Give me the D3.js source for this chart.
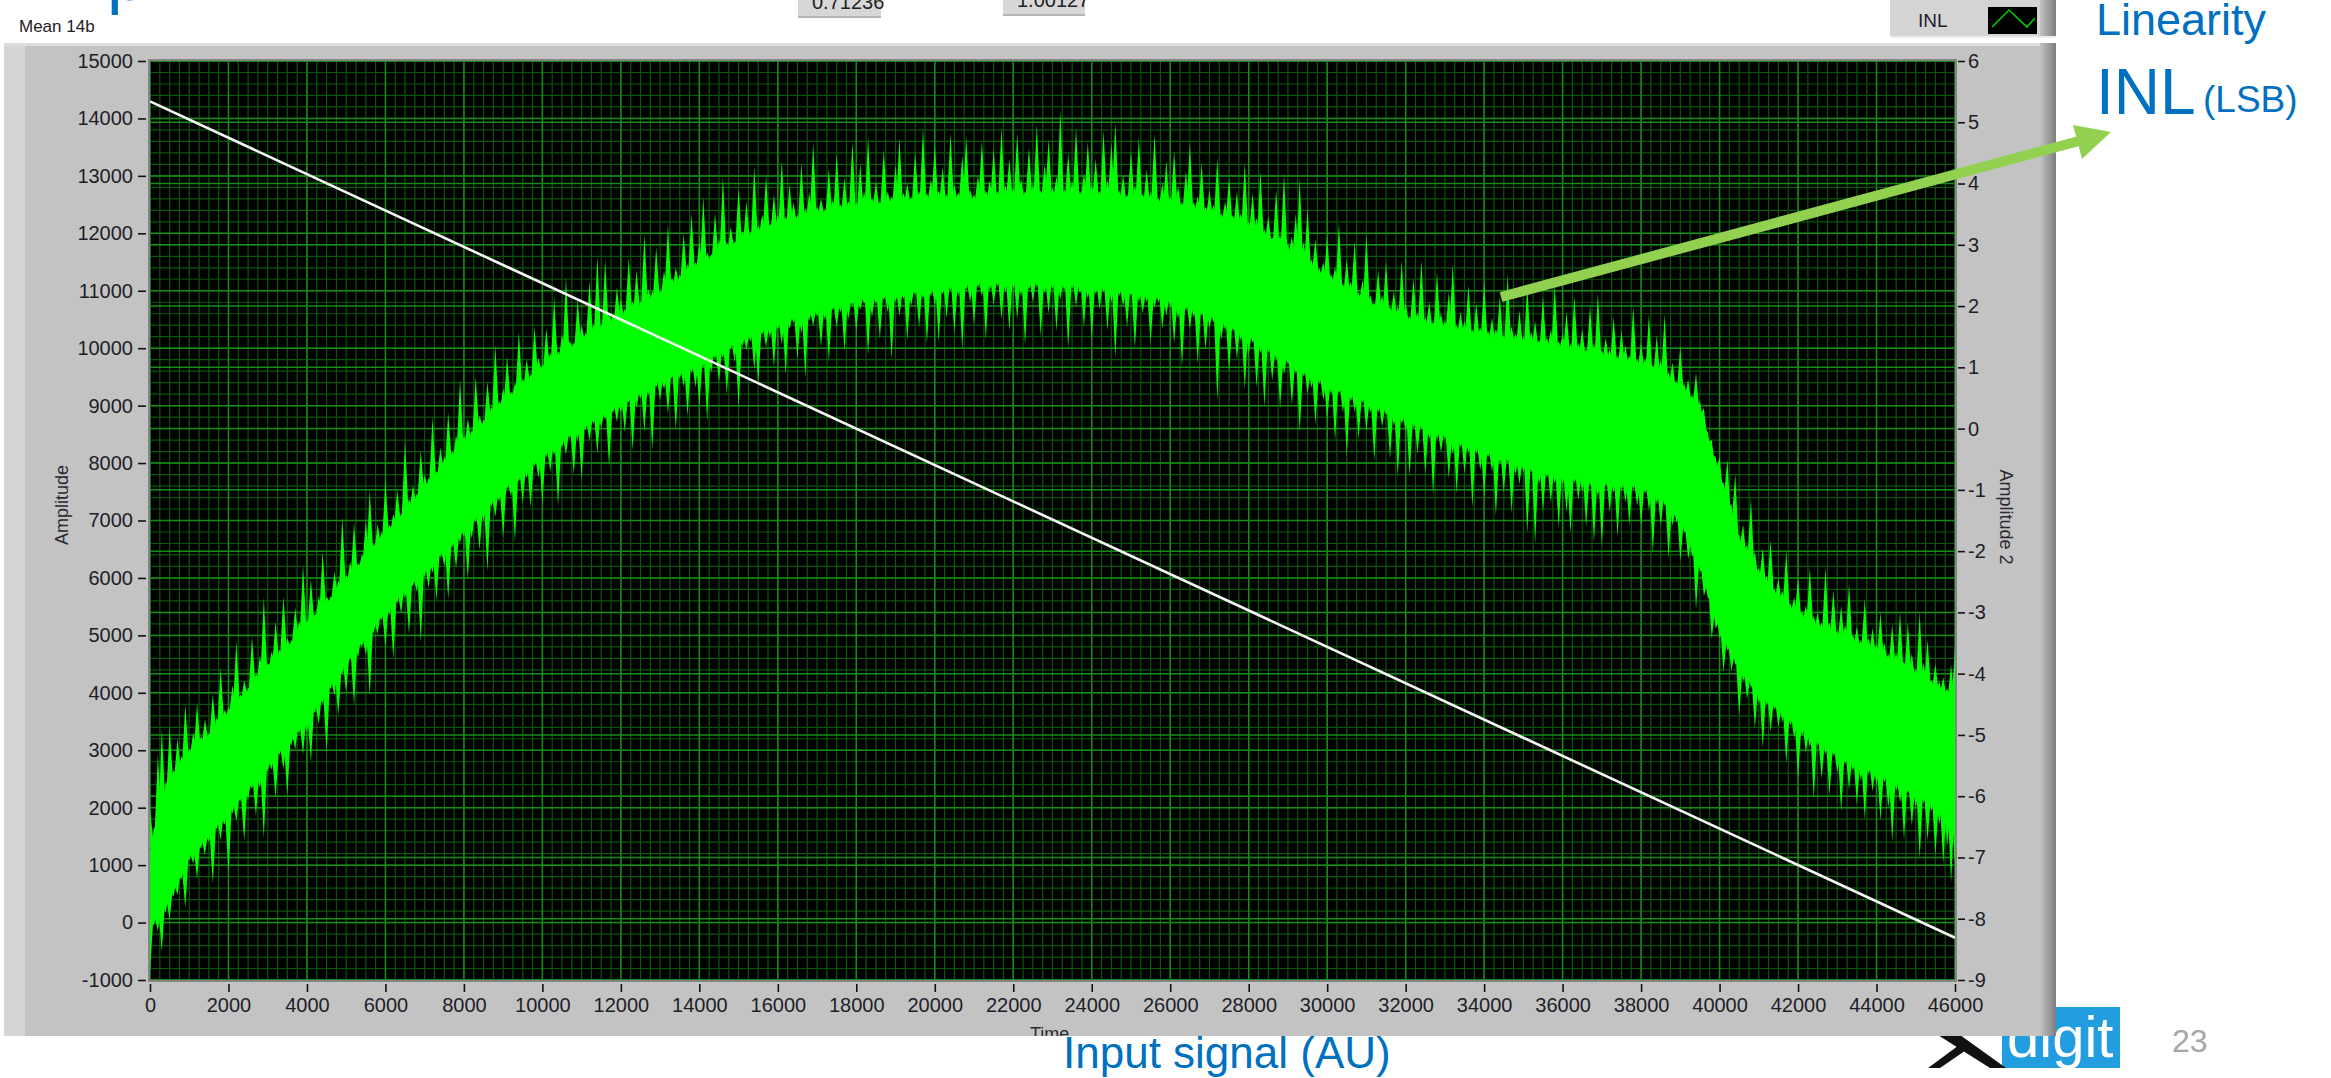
<!DOCTYPE html>
<html>
<head>
<meta charset="utf-8">
<script src="https://cdn.jsdelivr.net/npm/d3@7"></script>
<style>
  html, body { margin: 0; padding: 0; background: #ffffff; }
  svg { display: block; }
</style>
</head>
<body>
<svg id="chart" width="2331" height="1078"></svg>
<script>
// ---------------------------------------------------------------------------
// Acquired waveform (Amplitude, 14-bit mean).
// The dense trace is stored as a solid core band (every 500 time counts)
// plus the noise spikes that stick out of it (every 100 time counts),
// given in amplitude units above the core top / below the core bottom.
// ---------------------------------------------------------------------------
const coreStep = 500;
const coreTop = [
  1250, 2450, 2950, 3250, 3650, 4050, 4450, 4800, 5150, 5550,
  5950, 6350, 6750, 7150, 7550, 7950, 8350, 8700, 9050, 9350,
  9650, 9900, 10150, 10350, 10550, 10750, 10950, 11200, 11450, 11650,
  11850, 12000, 12150, 12250, 12350, 12400, 12450, 12500, 12550, 12570,
  12600, 12600, 12600, 12630, 12650, 12650, 12650, 12650, 12650, 12630,
  12600, 12550, 12500, 12430, 12350, 12230, 12100, 11900, 11700, 11450,
  11200, 11000, 10800, 10650, 10500, 10420, 10350, 10270, 10200, 10150,
  10100, 10050, 10000, 9930, 9850, 9770, 9700, 9550, 9300, 8950,
  7750, 6650, 6050, 5650, 5350, 5150, 5000, 4850, 4700, 4500,
  4300, 4100, 3900
];
const coreBottom = [
  -50, 450, 1150, 1550, 1950, 2350, 2750, 3150, 3550, 4050,
  4550, 5000, 5450, 5800, 6150, 6500, 6850, 7200, 7550, 7850,
  8150, 8400, 8650, 8850, 9050, 9250, 9450, 9600, 9750, 9950,
  10150, 10300, 10450, 10550, 10650, 10750, 10850, 10900, 10950, 11000,
  11050, 11100, 11150, 11150, 11150, 11150, 11150, 11130, 11100, 11050,
  11000, 10930, 10850, 10730, 10600, 10430, 10250, 10030, 9800, 9600,
  9400, 9250, 9100, 8950, 8800, 8650, 8500, 8370, 8250, 8130,
  8000, 7900, 7800, 7750, 7700, 7670, 7650, 7450, 7050, 6250,
  5150, 4450, 4050, 3750, 3450, 3200, 2950, 2800, 2650, 2470,
  2300, 2100, 1900
];

const spikeStep = 100;
const spikeAbove = [
  750, 170, 1200, 1400, 250, 950, 100, 550, 150, 950, 70, 300, 750, 120, 350, 50, 650, 170, 950, 135,
  100, 400, 1100, 85, 250, 35, 850, 135, 350, 1300, 70, 200, 650, 100, 950, 150, 50, 550, 250, 1150,
  120, 750, 70, 300, 1000, 135, 50, 400, 170, 1200, 100, 250, 850, 70, 150, 650, 1100, 85, 350, 135,
  950, 100, 200, 550, 50, 1250, 150, 300, 85, 750, 250, 120, 1100, 70, 400, 170, 850, 100, 300, 1200,
  135, 350, 85, 950, 200, 50, 650, 150, 1150, 100, 250, 750, 70, 170, 1000, 120, 400, 85, 850, 250,
  70, 650, 170, 1100, 100, 350, 1300, 135, 50, 750, 250, 85, 950, 150, 1300, 70, 1150, 200, 120, 550,
  300, 100, 950, 150, 650, 70, 1200, 200, 120, 850, 50, 350, 1100, 135, 250, 85, 750, 170, 1000, 100,
  400, 1150, 135, 70, 750, 250, 1300, 120, 350, 50, 950, 170, 650, 100, 1200, 150, 300, 950, 85, 550,
  170, 1100, 100, 650, 300, 70, 950, 150, 400, 1250, 120, 250, 50, 750, 200, 1000, 100, 550, 135, 1150,
  85, 750, 250, 1200, 135, 400, 50, 950, 200, 100, 650, 1100, 150, 300, 70, 850, 170, 1250, 120, 350,
  950, 150, 550, 85, 1150, 250, 120, 750, 1100, 170, 70, 400, 1000, 135, 300, 850, 100, 1200, 200, 650,
  135, 1100, 300, 85, 850, 200, 1250, 100, 550, 1000, 150, 350, 1500, 120, 750, 250, 1200, 85, 400, 950,
  200, 650, 100, 1150, 300, 950, 1300, 135, 400, 70, 850, 250, 1100, 120, 550, 170, 1200, 85, 350, 750,
  150, 950, 350, 85, 650, 1150, 135, 250, 850, 100, 400, 170, 1000, 70, 300, 750, 120, 550, 200, 1100,
  100, 650, 250, 1100, 135, 400, 70, 950, 200, 1300, 120, 300, 750, 1400, 350, 1000, 150, 550, 100, 250,
  750, 135, 300, 1100, 85, 550, 200, 950, 100, 350, 1200, 150, 50, 650, 250, 850, 120, 400, 170, 1000,
  300, 85, 750, 170, 1100, 120, 400, 70, 950, 250, 135, 650, 1150, 100, 350, 200, 850, 85, 550, 150,
  950, 120, 350, 170, 750, 70, 1150, 250, 135, 550, 100, 1000, 200, 400, 85, 850, 150, 300, 1100, 120,
  250, 650, 100, 950, 150, 400, 70, 850, 200, 1100, 120, 350, 170, 750, 85, 550, 300, 135, 1000, 100,
  400, 150, 950, 100, 650, 250, 1100, 135, 350, 85, 750, 170, 300, 100, 550, 135, 250, 70, 170, 120,
  350, 135, 750, 200, 950, 100, 400, 170, 1100, 300, 120, 550, 150, 850, 85, 350, 200, 950, 100, 250,
  650, 120, 250, 950, 150, 250, 100, 1100, 170, 750, 85, 550, 250, 1000, 135, 300, 100, 850, 200, 400,
  150, 750, 250, 100, 650, 200, 950, 135, 850, 350, 120, 1150, 300, 750, 85, 400, 135, 250, 100, 550,
  900
];
const spikeBelow = [
  800, 100, 300, 750, 170, 400, 135, 250, 120, 750, 70, 200, 550, 100, 300, 150, 950, 85, 350, 170,
  1100, 135, 350, 85, 850, 200, 100, 650, 250, 1200, 120, 170, 750, 70, 400, 950, 150, 300, 100, 550,
  250, 850, 100, 400, 150, 1100, 85, 300, 750, 135, 550, 70, 950, 200, 120, 350, 1150, 150, 250, 100,
  650, 170, 1000, 100, 350, 150, 850, 85, 250, 1200, 135, 400, 200, 750, 70, 300, 950, 120, 550, 170,
  135, 950, 300, 85, 650, 200, 1150, 100, 350, 150, 850, 70, 250, 1100, 120, 550, 170, 750, 85, 350,
  850, 100, 400, 170, 1100, 135, 300, 70, 750, 200, 950, 120, 350, 85, 650, 250, 135, 1000, 100, 300,
  170, 550, 85, 950, 250, 120, 750, 150, 1150, 100, 350, 200, 650, 70, 1000, 135, 300, 850, 120, 400,
  750, 135, 1100, 300, 100, 550, 170, 850, 85, 350, 1200, 150, 250, 120, 650, 950, 100, 350, 200, 750,
  120, 400, 950, 170, 85, 750, 300, 1100, 135, 250, 100, 650, 200, 950, 70, 400, 150, 850, 300, 100,
  550, 200, 100, 1000, 350, 135, 750, 85, 300, 1150, 150, 400, 120, 850, 250, 70, 650, 170, 950, 135,
  300, 950, 135, 550, 85, 850, 200, 1150, 120, 350, 750, 100, 250, 1000, 150, 400, 70, 650, 170, 850,
  100, 650, 250, 1100, 150, 350, 85, 950, 200, 550, 120, 850, 300, 135, 1150, 100, 400, 170, 750, 250,
  950, 150, 400, 100, 750, 250, 1200, 120, 300, 650, 85, 1000, 170, 350, 135, 850, 200, 100, 550, 300,
  135, 750, 300, 1100, 100, 400, 170, 950, 85, 650, 250, 120, 1450, 350, 150, 850, 100, 550, 200, 1000,
  350, 120, 850, 200, 1100, 100, 550, 150, 950, 300, 85, 750, 170, 1150, 135, 400, 250, 850, 100, 350,
  650, 170, 950, 100, 400, 1150, 150, 300, 750, 85, 550, 200, 1000, 135, 350, 120, 850, 250, 1100, 150,
  250, 1000, 135, 550, 100, 850, 200, 1150, 150, 350, 85, 750, 300, 950, 120, 550, 170, 1100, 135, 400,
  850, 135, 350, 1100, 170, 650, 100, 950, 250, 400, 150, 1200, 120, 1350, 300, 750, 135, 550, 200, 950,
  170, 650, 1000, 120, 400, 250, 850, 135, 1100, 300, 1150, 100, 550, 200, 950, 150, 350, 750, 120, 400,
  750, 150, 400, 1100, 200, 550, 120, 950, 300, 170, 750, 100, 400, 200, 950, 135, 350, 170, 650, 250,
  200, 650, 135, 350, 100, 850, 170, 400, 120, 750, 250, 950, 150, 550, 100, 350, 200, 850, 135, 300,
  950, 150, 400, 250, 1100, 120, 650, 170, 850, 100, 350, 1000, 135, 550, 200, 750, 300, 950, 120, 400,
  250, 850, 135, 550, 1100, 170, 350, 950, 120, 650, 300, 1150, 150, 750, 200, 950, 350, 1000, 650, 1250,
  900
];

// INL trace, plotted against the right-hand axis (Amplitude 2, LSB)
const inlTime  = [0, 46000];
const inlValue = [5.34, -8.31];

// Axis ticks
const timeTicks = [0, 2000, 4000, 6000, 8000, 10000, 12000, 14000, 16000, 18000,
  20000, 22000, 24000, 26000, 28000, 30000, 32000, 34000, 36000, 38000, 40000,
  42000, 44000, 46000];
const amplitudeTicks = [-1000, 0, 1000, 2000, 3000, 4000, 5000, 6000, 7000, 8000,
  9000, 10000, 11000, 12000, 13000, 14000, 15000];
const amplitude2Ticks = [-9, -8, -7, -6, -5, -4, -3, -2, -1, 0, 1, 2, 3, 4, 5, 6];

// ---------------------------------------------------------------------------
const plot = { left: 150, right: 1955, top: 61, bottom: 980 };
const uiFont = "'Liberation Sans Narrow','Arial Narrow','Liberation Sans',Arial,sans-serif";
const slideFont = "'Liberation Sans',Arial,sans-serif";
const slideBlue = "#0070c0";
const traceGreen = "#00ff00";

const svg = d3.select("#chart");
const defs = svg.append("defs");

defs.append("clipPath").attr("id", "plotClip")
  .append("rect")
  .attr("x", plot.left).attr("y", plot.top)
  .attr("width", plot.right - plot.left).attr("height", plot.bottom - plot.top);

defs.append("clipPath").attr("id", "panelClip")
  .append("rect").attr("x", 4).attr("y", 43).attr("width", 2052).attr("height", 993);

const edgeGrad = defs.append("linearGradient").attr("id", "edgeShade")
  .attr("x1", 0).attr("x2", 1).attr("y1", 0).attr("y2", 0);
edgeGrad.append("stop").attr("offset", "0%").attr("stop-color", "#c3c3c3");
edgeGrad.append("stop").attr("offset", "100%").attr("stop-color", "#7d7d7d");

const x  = d3.scaleLinear().domain([0, 46000]).range([plot.left, plot.right]);
const y  = d3.scaleLinear().domain([-1000, 15000]).range([plot.bottom, plot.top]);
const y2 = d3.scaleLinear().domain([-9, 6]).range([plot.bottom, plot.top]);

// ---- slide logo (sits behind the front panel) -----------------------------
const logo = svg.append("g");
logo.append("rect").attr("x", 2002).attr("y", 1007).attr("width", 118).attr("height", 61)
  .attr("fill", "#229ee0");
logo.append("text").attr("x", 2007).attr("y", 1057)
  .attr("font-family", slideFont).attr("font-size", 58).attr("fill", "#ffffff")
  .text("digit");
logo.append("path").attr("d", "M1942,1022 L2006,1068 L1990,1068 L1930,1030 Z").attr("fill", "#111");
logo.append("path").attr("d", "M1928,1068 L1966,1040 L1972,1046 L1940,1068 Z").attr("fill", "#111");

// ---- front panel -----------------------------------------------------------
const panel = svg.append("g").attr("clip-path", "url(#panelClip)");
panel.append("rect").attr("x", 4).attr("y", 43).attr("width", 2052).attr("height", 993)
  .attr("fill", "#c3c3c3");
panel.append("rect").attr("x", 4).attr("y", 43).attr("width", 21).attr("height", 993)
  .attr("fill", "#d5d5d5");
panel.append("rect").attr("x", 4).attr("y", 43).attr("width", 2052).attr("height", 3)
  .attr("fill", "#dedede");
panel.append("rect").attr("x", 2040).attr("y", 43).attr("width", 16).attr("height", 993)
  .attr("fill", "url(#edgeShade)");

// plot background
panel.append("rect")
  .attr("x", plot.left).attr("y", plot.top)
  .attr("width", plot.right - plot.left).attr("height", plot.bottom - plot.top)
  .attr("fill", "#000000");

// grid
const grid = panel.append("g").attr("clip-path", "url(#plotClip)");
const minorColor = "#0a560a", majorColor = "#168c16";

grid.append("g").selectAll("line").data(d3.range(0, 46001, 250)).join("line")
  .attr("x1", d => x(d)).attr("x2", d => x(d))
  .attr("y1", plot.top).attr("y2", plot.bottom)
  .attr("stroke", minorColor).attr("stroke-width", 1.2);
grid.append("g").selectAll("line").data(d3.range(-1000, 15001, 200)).join("line")
  .attr("x1", plot.left).attr("x2", plot.right)
  .attr("y1", d => y(d)).attr("y2", d => y(d))
  .attr("stroke", minorColor).attr("stroke-width", 1.2);
grid.append("g").selectAll("line").data(amplitude2Ticks).join("line")
  .attr("x1", plot.left).attr("x2", plot.right)
  .attr("y1", d => y2(d)).attr("y2", d => y2(d))
  .attr("stroke", majorColor).attr("stroke-width", 1.5);
grid.append("g").selectAll("line").data(amplitudeTicks).join("line")
  .attr("x1", plot.left).attr("x2", plot.right)
  .attr("y1", d => y(d)).attr("y2", d => y(d))
  .attr("stroke", majorColor).attr("stroke-width", 1.5);
grid.append("g").selectAll("line").data(timeTicks).join("line")
  .attr("x1", d => x(d)).attr("x2", d => x(d))
  .attr("y1", plot.top).attr("y2", plot.bottom)
  .attr("stroke", majorColor).attr("stroke-width", 1.5);

// waveform: solid core band
const coreTime = coreTop.map((_, i) => i * coreStep);
const coreRows = coreTime.map((t, i) => ({ t, top: coreTop[i], bottom: coreBottom[i] }));
const trace = grid.append("g");
trace.append("path").datum(coreRows)
  .attr("d", d3.area().x(d => x(d.t)).y0(d => y(d.bottom)).y1(d => y(d.top)))
  .attr("fill", traceGreen);

// waveform: noise spikes as narrow needles rooted in the core band
const topAt = d3.scaleLinear().domain(coreTime).range(coreTop).clamp(true);
const bottomAt = d3.scaleLinear().domain(coreTime).range(coreBottom).clamp(true);
const halfBase = 90;   // needle half-width, in time counts
const rootDepth = 80;  // how far the needle base reaches into the core band

const spikes = spikeAbove.map((up, i) => ({ t: i * spikeStep, up, down: spikeBelow[i] }));
trace.append("g").selectAll("polygon").data(spikes).join("polygon")
  .attr("points", d => {
    const tl = d.t - halfBase, tr = d.t + halfBase;
    return [
      [x(tl), y(topAt(tl) - rootDepth)],
      [x(d.t), y(topAt(d.t) + d.up)],
      [x(tr), y(topAt(tr) - rootDepth)]
    ].map(p => p.join(",")).join(" ");
  })
  .attr("fill", traceGreen);
trace.append("g").selectAll("polygon").data(spikes).join("polygon")
  .attr("points", d => {
    const tl = d.t - halfBase, tr = d.t + halfBase;
    return [
      [x(tl), y(bottomAt(tl) + rootDepth)],
      [x(d.t), y(bottomAt(d.t) - d.down)],
      [x(tr), y(bottomAt(tr) + rootDepth)]
    ].map(p => p.join(",")).join(" ");
  })
  .attr("fill", traceGreen);

// INL line on the secondary axis
const inlPts = inlTime.map((t, i) => ({ t, v: inlValue[i] }));
grid.append("path").datum(inlPts)
  .attr("d", d3.line().x(d => x(d.t)).y(d => y2(d.v)))
  .attr("fill", "none").attr("stroke", "#f4f4f4").attr("stroke-width", 2.6);

// plot frame
panel.append("rect")
  .attr("x", plot.left - 1).attr("y", plot.top - 1)
  .attr("width", plot.right - plot.left + 2).attr("height", plot.bottom - plot.top + 2)
  .attr("fill", "none").attr("stroke", "#858585").attr("stroke-width", 2);

// ---- axes ------------------------------------------------------------------
function styleAxis(g) {
  g.select(".domain").remove();
  g.selectAll(".tick line").attr("stroke", "#111").attr("stroke-width", 1.6);
  g.selectAll(".tick text").attr("fill", "#1e1e28")
    .attr("font-family", uiFont).attr("font-size", 20);
}

panel.append("g")
  .attr("transform", "translate(146,0)")
  .call(d3.axisLeft(y).tickValues(amplitudeTicks).tickSize(8).tickPadding(5)
    .tickFormat(d => String(d)))
  .call(styleAxis);

panel.append("g")
  .attr("transform", "translate(1958,0)")
  .call(d3.axisRight(y2).tickValues(amplitude2Ticks).tickSize(7).tickPadding(3)
    .tickFormat(d => String(d)))
  .call(styleAxis);

panel.append("g")
  .attr("transform", "translate(0,984)")
  .call(d3.axisBottom(x).tickValues(timeTicks).tickSize(8).tickPadding(6)
    .tickFormat(d => String(d)))
  .call(styleAxis);

// axis titles
panel.append("text")
  .attr("transform", "translate(68,505) rotate(-90)")
  .attr("text-anchor", "middle")
  .attr("font-family", uiFont).attr("font-size", 18).attr("fill", "#2a2a30")
  .text("Amplitude");
panel.append("text")
  .attr("transform", "translate(2000,517) rotate(90)")
  .attr("text-anchor", "middle")
  .attr("font-family", uiFont).attr("font-size", 18).attr("fill", "#2a2a30")
  .text("Amplitude 2");
panel.append("text")
  .attr("x", 1030).attr("y", 1040)
  .attr("font-family", uiFont).attr("font-size", 18).attr("fill", "#2a2a30")
  .text("Time");

// ---- controls above the panel ---------------------------------------------
svg.append("text").attr("x", 19).attr("y", 32)
  .attr("font-family", slideFont).attr("font-size", 17).attr("fill", "#222")
  .text("Mean 14b");

svg.append("text").attr("x", 107).attr("y", 0)
  .attr("font-family", slideFont).attr("font-size", 70).attr("fill", slideBlue)
  .text("p");

const ctrl = svg.append("g");
[[798, 83, 18, "0.71236"], [1003, 82, 16, "1.00127"]].forEach(([cx, cw, ch, label]) => {
  ctrl.append("rect").attr("x", cx).attr("y", -2).attr("width", cw).attr("height", ch + 2)
    .attr("fill", "#d7d7d7");
  ctrl.append("rect").attr("x", cx).attr("y", ch - 2).attr("width", cw).attr("height", 2)
    .attr("fill", "#b5b5b5");
  ctrl.append("text").attr("x", cx + 14).attr("y", ch - 9)
    .attr("font-family", uiFont).attr("font-size", 20).attr("fill", "#222")
    .text(label);
});

// plot legend
const legend = svg.append("g");
legend.append("rect").attr("x", 1890).attr("y", -2).attr("width", 166).attr("height", 40)
  .attr("fill", "#d4d4d4");
legend.append("rect").attr("x", 2040).attr("y", -2).attr("width", 16).attr("height", 40)
  .attr("fill", "url(#edgeShade)");
legend.append("rect").attr("x", 1890).attr("y", 36).attr("width", 166).attr("height", 2)
  .attr("fill", "#ececec");
legend.append("text").attr("x", 1918).attr("y", 27)
  .attr("font-family", uiFont).attr("font-size", 19).attr("fill", "#1e1e28")
  .text("INL");
legend.append("rect").attr("x", 1988).attr("y", 7).attr("width", 49).attr("height", 27)
  .attr("fill", "#000");
legend.append("polyline")
  .attr("points", "1992,27 2009,10 2027,27 2035,18")
  .attr("fill", "none").attr("stroke", "#00d000").attr("stroke-width", 1.6);

// ---- slide annotations -----------------------------------------------------
svg.append("text").attr("x", 2096).attr("y", 35)
  .attr("font-family", slideFont).attr("font-size", 45).attr("fill", slideBlue)
  .text("Linearity");
svg.append("text").attr("x", 2096).attr("y", 114)
  .attr("font-family", slideFont).attr("font-size", 64).attr("fill", slideBlue)
  .text("INL");
svg.append("text").attr("x", 2203).attr("y", 112)
  .attr("font-family", slideFont).attr("font-size", 37).attr("fill", slideBlue)
  .text("(LSB)");

const arrowColor = "#92d050";
svg.append("line")
  .attr("x1", 1501).attr("y1", 297).attr("x2", 2079).attr("y2", 141)
  .attr("stroke", arrowColor).attr("stroke-width", 10);
svg.append("polygon")
  .attr("points", "2111,132 2082,159 2073,125")
  .attr("fill", arrowColor);

svg.append("text").attr("x", 1063).attr("y", 1068)
  .attr("font-family", slideFont).attr("font-size", 44).attr("fill", slideBlue)
  .text("Input signal (AU)");

svg.append("text").attr("x", 2172).attr("y", 1052)
  .attr("font-family", slideFont).attr("font-size", 32).attr("fill", "#a6a6a6")
  .text("23");
</script>
</body>
</html>
